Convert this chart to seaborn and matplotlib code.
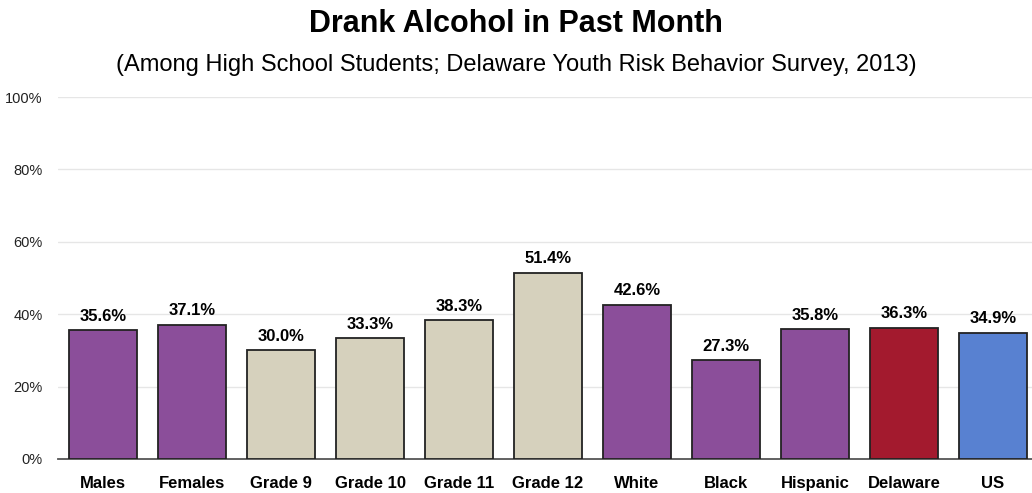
import matplotlib
matplotlib.use("Agg")
import matplotlib.pyplot as plt
import seaborn as sns
import pandas as pd
from matplotlib.ticker import PercentFormatter

groups = ["Males", "Females", "Grade 9", "Grade 10", "Grade 11", "Grade 12",
          "White", "Black", "Hispanic", "Delaware", "US"]
values = [35.6, 37.1, 30.0, 33.3, 38.3, 51.4, 42.6, 27.3, 35.8, 36.3, 34.9]
bar_colors = ["#8b4e9a", "#8b4e9a", "#d6d1bd", "#d6d1bd", "#d6d1bd", "#d6d1bd",
              "#8b4e9a", "#8b4e9a", "#8b4e9a", "#a31a2e", "#5881d1"]

sns.set_style("white")
plt.rcParams["font.family"] = ["Liberation Sans", "DejaVu Sans"]
plt.rcParams["text.color"] = "black"
narrow = ["Liberation Sans Narrow", "Liberation Sans", "DejaVu Sans"]

df = pd.DataFrame({"group": groups, "value": values})

fig = plt.figure(figsize=(10.32, 4.93), dpi=100)
ax = fig.add_axes([0.056, 0.069, 0.944, 0.734])

sns.barplot(data=df, x="group", y="value", hue="group", palette=bar_colors,
            legend=False, width=0.77, saturation=1, edgecolor="#222222",
            linewidth=1.3, ax=ax, zorder=3)

for i, v in enumerate(values):
    ax.text(i, v + 1.8, f"{v:.1f}%", ha="center", va="bottom",
            fontsize=12, fontweight="bold", family=narrow)

ax.set_ylim(0, 100)
ax.set_xlim(-0.51, 10.44)
ax.set_yticks(range(0, 101, 20))
ax.yaxis.set_major_formatter(PercentFormatter(decimals=0))
ax.grid(axis="y", color="#e6e6e6", linewidth=1, zorder=0)
ax.set_xlabel("")
ax.set_ylabel("")
for s in ["top", "right", "left"]:
    ax.spines[s].set_visible(False)
ax.spines["bottom"].set_color("#555555")
ax.spines["bottom"].set_linewidth(1.3)
ax.tick_params(axis="y", length=0, pad=11, labelsize=10.5, labelcolor="#222222")
ax.tick_params(axis="x", length=0, pad=12, labelcolor="black")
for lab in ax.get_xticklabels():
    lab.set_fontweight("bold")
    lab.set_fontsize(12)
    lab.set_family(narrow)

fig.text(0.5, 0.982, "Drank Alcohol in Past Month", ha="center", va="top",
         fontsize=22, fontweight="bold")
fig.text(0.5, 0.89, "(Among High School Students; Delaware Youth Risk Behavior Survey, 2013)",
         ha="center", va="top", fontsize=17)

fig.savefig("out.png", dpi=100)
